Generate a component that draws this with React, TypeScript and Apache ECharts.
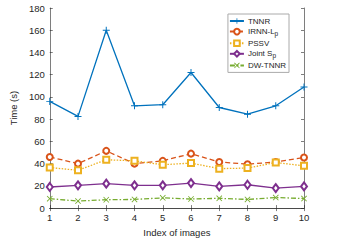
import React, { useEffect, useRef } from "react";
import * as echarts from "echarts";

const xValues = [1, 2, 3, 4, 5, 6, 7, 8, 9, 10];
const tnnr = [96, 82.5, 160, 92, 93, 122, 90.5, 84.5, 92, 109];
const irnn = [46, 40, 51.5, 40, 42.5, 49, 41.5, 39.5, 41.5, 45.5];
const pssv = [36.5, 34, 43.5, 42.5, 39, 40.5, 35.5, 36, 41, 38];
const jointSp = [19, 20.5, 22, 20.5, 20.5, 22.5, 19.5, 21, 18, 19.5];
const dwTnnr = [8.5, 6.3, 7.5, 7.8, 9.2, 8.2, 8.8, 7.8, 9.5, 8.6];
const seriesNames = ["TNNR", "IRNN-Lp", "PSSV", "Joint Sp", "DW-TNNR"];

const plusPath = "path://M4.3,0H5.7V4.3H10V5.7H5.7V10H4.3V5.7H0V4.3H4.3Z";
const crossPath = "path://M1,0L5,4L9,0L10,1L6,5L10,9L9,10L5,6L1,10L0,9L4,5L0,1Z";

export default function App() {
  const ref = useRef<HTMLDivElement>(null);
  useEffect(() => {
    if (!ref.current) return;
    const chart = echarts.init(ref.current, undefined, { renderer: "svg" });
    const axisColor = "#262626";
    const mk = (d: number[]) => xValues.map((x, i) => [x, d[i]]);
    const font = "Liberation Sans, Arial, sans-serif";
    chart.setOption({
      animation: false,
      backgroundColor: "#fff",
      grid: { left: 36, right: 33, top: 8, bottom: 28 },
      legend: {
        orient: "vertical",
        right: 48,
        top: 14,
        itemWidth: 14,
        itemHeight: 7,
        itemGap: 2.6,
        padding: [3, 3, 3, 1],
        borderColor: "#aaa",
        borderWidth: 1,
        backgroundColor: "#fff",
        data: seriesNames,
        formatter: (n: string) => {
          if (n === "IRNN-Lp") return "IRNN-L{s|p}";
          if (n === "Joint Sp") return "Joint S{s|p}";
          return n;
        },
        textStyle: {
          fontSize: 8,
          fontFamily: font,
          color: axisColor,
          padding: [0, 0, 0, -1],
          rich: { s: { fontSize: 6.5, fontFamily: font, color: axisColor, padding: [3, 0, 0, 0] } },
        },
      },
      xAxis: [
        {
          type: "value",
          min: 1,
          max: 10,
          interval: 1,
          name: "Index of images",
          nameLocation: "middle",
          nameGap: 17,
          nameTextStyle: { fontSize: 9.5, fontFamily: font, color: axisColor },
          axisLine: { lineStyle: { color: axisColor, width: 0.6 } },
          axisTick: { inside: true, length: 3, lineStyle: { color: axisColor, width: 0.6 } },
          axisLabel: { fontSize: 9.5, fontFamily: font, color: axisColor, margin: 4 },
          splitLine: { show: false },
        },
        {
          type: "value",
          position: "top",
          min: 1,
          max: 10,
          interval: 1,
          axisLine: { show: true, lineStyle: { color: axisColor, width: 0.6 } },
          axisTick: { show: true, inside: true, length: 3, lineStyle: { color: axisColor, width: 0.6 } },
          axisLabel: { show: false },
          splitLine: { show: false },
        },
      ],
      yAxis: [
        {
          type: "value",
          min: 0,
          max: 180,
          interval: 20,
          name: "Time (s)",
          nameLocation: "middle",
          nameGap: 22,
          nameTextStyle: { fontSize: 9.5, fontFamily: font, color: axisColor },
          axisLine: { show: true, lineStyle: { color: axisColor, width: 0.6 } },
          axisTick: { show: true, inside: true, length: 3, lineStyle: { color: axisColor, width: 0.6 } },
          axisLabel: { fontSize: 9.5, fontFamily: font, color: axisColor, margin: 5 },
          splitLine: { show: false },
        },
        {
          type: "value",
          position: "right",
          min: 0,
          max: 180,
          interval: 20,
          axisLine: { show: true, lineStyle: { color: axisColor, width: 0.6 } },
          axisTick: { show: true, inside: true, length: 3, lineStyle: { color: axisColor, width: 0.6 } },
          axisLabel: { show: false },
          splitLine: { show: false },
        },
      ],
      series: [
        {
          name: seriesNames[0],
          type: "line",
          data: mk(tnnr),
          color: "#0072BD",
          symbol: plusPath,
          symbolSize: 7,
          lineStyle: { width: 1.3 },
          itemStyle: { color: "#0072BD" },
        },
        {
          name: seriesNames[1],
          type: "line",
          data: mk(irnn),
          color: "#D95319",
          symbol: "emptyCircle",
          symbolSize: 6,
          lineStyle: { width: 1.3, type: [5, 3] },
          itemStyle: { color: "#D95319", borderWidth: 1.2 },
        },
        {
          name: seriesNames[2],
          type: "line",
          data: mk(pssv),
          color: "#EDB120",
          symbol: "emptyRect",
          symbolSize: 6,
          lineStyle: { width: 1.3, type: [1.5, 1.5] },
          itemStyle: { color: "#EDB120", borderWidth: 1.2 },
        },
        {
          name: seriesNames[3],
          type: "line",
          data: mk(jointSp),
          color: "#7E2F8E",
          symbol: "emptyDiamond",
          symbolSize: [6, 8],
          lineStyle: { width: 1.3 },
          itemStyle: { color: "#7E2F8E", borderWidth: 1.2 },
        },
        {
          name: seriesNames[4],
          type: "line",
          data: mk(dwTnnr),
          color: "#77AC30",
          symbol: crossPath,
          symbolSize: 6,
          lineStyle: { width: 1.3, type: [5, 2, 1.5, 2] },
          itemStyle: { color: "#77AC30" },
        },
      ],
    });
    return () => chart.dispose();
  }, []);
  return <div ref={ref} style={{ width: 337, height: 242, position: "absolute", left: 0, top: 0 }} />;
}
